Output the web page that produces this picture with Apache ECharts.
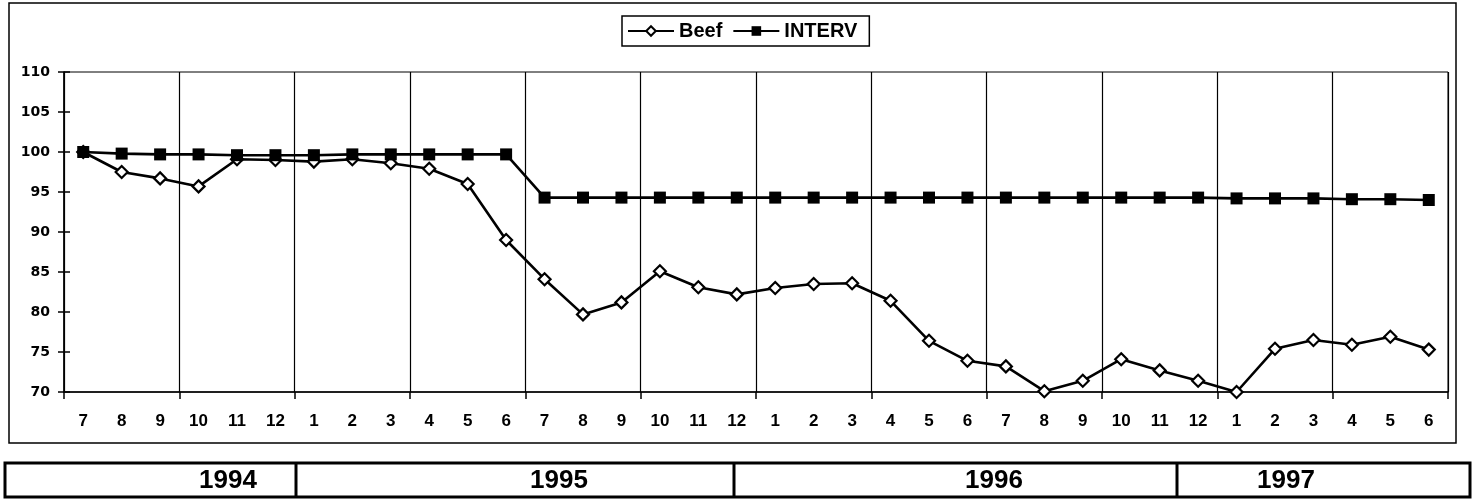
<!DOCTYPE html>
<html>
<head>
<meta charset="utf-8">
<script src="https://cdn.jsdelivr.net/npm/echarts@6/dist/echarts.min.js"></script>
<style>
  html, body { margin: 0; padding: 0; background: #fff; }
  #chart { width: 1474px; height: 502px; }
</style>
</head>
<body>
<div id="chart"></div>
<script>
// Month labels, Jul 1994 – Jun 1997
const months = ['7','8','9','10','11','12','1','2','3','4','5','6',
                '7','8','9','10','11','12','1','2','3','4','5','6',
                '7','8','9','10','11','12','1','2','3','4','5','6'];

// Beef price index
const beef = [100.0, 97.5, 96.7, 95.7, 99.1, 99.0, 98.8, 99.1, 98.6, 97.9, 96.0, 89.0,
              84.1, 79.7, 81.2, 85.1, 83.1, 82.2, 83.0, 83.5, 83.6, 81.4, 76.4, 73.9,
              73.2, 70.1, 71.4, 74.1, 72.7, 71.4, 70.0, 75.4, 76.5, 75.9, 76.9, 75.3];

// Intervention price index
const interv = [100.0, 99.8, 99.7, 99.7, 99.6, 99.6, 99.6, 99.7, 99.7, 99.7, 99.7, 99.7,
                94.3, 94.3, 94.3, 94.3, 94.3, 94.3, 94.3, 94.3, 94.3, 94.3, 94.3, 94.3,
                94.3, 94.3, 94.3, 94.3, 94.3, 94.3, 94.2, 94.2, 94.2, 94.1, 94.1, 94.0];

// Years shown in the strip under the chart
const years = ['1994', '1995', '1996', '1997'];

// y axis range
const yMin = 70, yMax = 110, yStep = 5;

// Year strip layout: cell edges and label centres (pixels)
const stripEdges = [5, 296, 734, 1177, 1470];
const stripLabelX = [228, 559, 994, 1286];
const stripTop = 463, stripBottom = 497;

// a vertical grid line at every quarter boundary
const everyQuarter = (index) => index % 3 === 0;

const chart = echarts.init(document.getElementById('chart'), null, { renderer: 'canvas' });

const stripGraphics = [];
stripGraphics.push({
  type: 'rect',
  shape: { x: stripEdges[0], y: stripTop, width: stripEdges[stripEdges.length - 1] - stripEdges[0], height: stripBottom - stripTop },
  style: { fill: '#fff', stroke: '#000', lineWidth: 3 }
});
for (let i = 1; i < stripEdges.length - 1; i++) {
  stripGraphics.push({
    type: 'line',
    shape: { x1: stripEdges[i], y1: stripTop, x2: stripEdges[i], y2: stripBottom },
    style: { stroke: '#000', lineWidth: 3 }
  });
}
years.forEach((y, i) => {
  stripGraphics.push({
    type: 'text',
    x: stripLabelX[i],
    y: (stripTop + stripBottom) / 2 + 1,
    style: {
      text: y, fill: '#000', align: 'center', verticalAlign: 'middle',
      font: 'bold 26px "Liberation Sans Narrow", "Liberation Sans", Arial, sans-serif'
    }
  });
});

const narrowFont = '"Liberation Sans Narrow", "Liberation Sans", Arial, sans-serif';

chart.setOption({
  animation: false,
  backgroundColor: '#fff',
  graphic: [
    {
      type: 'rect',
      shape: { x: 9, y: 3, width: 1447, height: 440 },
      style: { fill: 'none', stroke: '#000', lineWidth: 1.5 },
      z: -1
    },
    ...stripGraphics
  ],
  legend: {
    left: 622,
    top: 16,
    padding: [5, 12, 5, 5],
    borderColor: '#000',
    borderWidth: 1.5,
    backgroundColor: '#fff',
    itemWidth: 46,
    itemHeight: 12,
    itemGap: 10,
    textStyle: { color: '#000', fontSize: 20, fontWeight: 'bold', fontFamily: '"Liberation Sans", Arial, sans-serif' },
    data: ['Beef', 'INTERV']
  },
  grid: {
    left: 64, right: 26, top: 72, bottom: 110,
    show: true, borderColor: '#000', borderWidth: 1, backgroundColor: '#fff'
  },
  xAxis: {
    type: 'category',
    data: months,
    boundaryGap: true,
    axisLine: { lineStyle: { color: '#000', width: 1.5 } },
    axisTick: { show: true, interval: everyQuarter, length: 7, lineStyle: { color: '#000', width: 1.5 } },
    splitLine: { show: true, interval: everyQuarter, lineStyle: { color: '#000', width: 1.2 } },
    axisLabel: { interval: 0, color: '#000', fontSize: 17, fontWeight: 'bold', fontFamily: narrowFont, margin: 21 }
  },
  yAxis: [
    {
      type: 'value',
      min: yMin, max: yMax, interval: yStep,
      axisLine: { show: true, lineStyle: { color: '#000', width: 1.5 } },
      axisTick: { show: true, length: 6, lineStyle: { color: '#000', width: 1.5 } },
      splitLine: { show: false },
      axisLabel: { color: '#000', fontSize: 14, fontWeight: 'bold', fontFamily: '"DejaVu Sans", sans-serif', margin: 14 }
    },
    {
      // inner half of the crossing tick marks
      type: 'value',
      position: 'left',
      min: yMin, max: yMax, interval: yStep,
      axisLine: { show: false },
      axisTick: { show: true, inside: true, length: 6, lineStyle: { color: '#000', width: 1.5 } },
      splitLine: { show: false },
      axisLabel: { show: false }
    }
  ],
  series: [
    {
      name: 'Beef',
      type: 'line',
      data: beef,
      symbol: 'diamond',
      symbolSize: 12,
      showAllSymbol: true,
      clip: false,
      itemStyle: { color: '#fff', borderColor: '#000', borderWidth: 2.2 },
      lineStyle: { color: '#000', width: 2.6 },
      z: 3
    },
    {
      name: 'INTERV',
      type: 'line',
      data: interv,
      symbol: 'rect',
      symbolSize: 12,
      showAllSymbol: true,
      clip: false,
      itemStyle: { color: '#000', borderColor: '#000', borderWidth: 0 },
      lineStyle: { color: '#000', width: 2.6 },
      z: 4
    }
  ]
});
</script>
</body>
</html>
